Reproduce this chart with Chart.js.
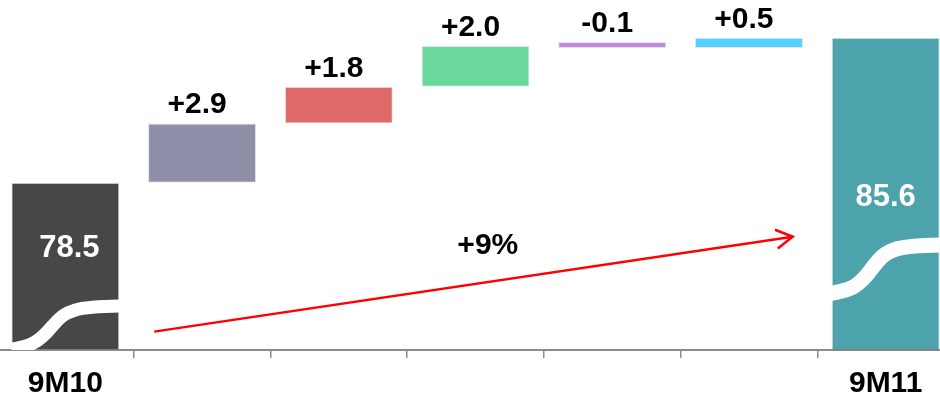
<!DOCTYPE html>
<html>
<head>
<meta charset="utf-8">
<script src="https://cdn.jsdelivr.net/npm/chart.js@4"></script>
<style>
  html, body { margin: 0; padding: 0; background: #fff; overflow: hidden; }
  #wrap { width: 957px; height: 397px; margin-left: -3px; }
</style>
</head>
<body>
<div id="wrap"><canvas id="chart"></canvas></div>
<script>
const categories = ["9M10", "", "", "", "", "", "9M11"];
const startValue = 78.5;
const endValue = 85.6;
const deltas = [2.9, 1.8, 2.0, -0.1, 0.5];
const growthLabel = "+9%";
const barColors = ["#474747", "#8f8fa9", "#e06a6a", "#6ad89b", "#c08ae0", "#55cfff", "#4da3ab"];

// waterfall ranges built from the numbers above
let bars = [[70.3, startValue]];
let running = startValue;
deltas.forEach(d => {
    bars.push([running, running + d]);
    running = running + d;
});
bars.push([70.3, endValue]);

const labelFont = "bold 30px 'Liberation Sans', Arial, sans-serif";

// white "axis break" wave on the first and last bar, value labels, growth arrow
const extras = {
    id: "extras",
    afterDatasetsDraw(chart) {
        const ctx = chart.ctx;
        const meta = chart.getDatasetMeta(0);
        const xs = chart.scales.x;
        const ys = chart.scales.y;

        const breaks = [
            { i: 0, left: 4, right: 44, lw: 13 },
            { i: 6, left: 60, right: 105, lw: 15 }
        ];
        breaks.forEach(b => {
            const bar = meta.data[b.i];
            const half = bar.width / 2;
            const x0 = bar.x - half, x1 = bar.x + half;
            const yL = bar.base - b.left, yR = bar.base - b.right;
            const xm = x0 + bar.width * 0.38;
            ctx.save();
            ctx.beginPath();
            ctx.rect(x0, bar.y, bar.width, bar.base - bar.y);
            ctx.clip();
            ctx.strokeStyle = "#fff";
            ctx.lineWidth = b.lw;
            ctx.beginPath();
            ctx.moveTo(x0 - 12, yL + 5);
            ctx.bezierCurveTo(x0 + 20, yL + 1, xm - 14, yL - 3, xm, (yL + yR) / 2);
            ctx.bezierCurveTo(xm + 14, yR + 5, x1 - 50, yR, x1 + 12, yR);
            ctx.stroke();
            ctx.restore();
        });

        ctx.save();
        ctx.font = labelFont;
        ctx.textAlign = "center";
        ctx.textBaseline = "alphabetic";
        meta.data.forEach((bar, i) => {
            if (i === 0 || i === meta.data.length - 1) return;
            const d = deltas[i - 1];
            const txt = (d >= 0 ? "+" : "") + d.toFixed(1);
            ctx.fillStyle = "#000";
            ctx.fillText(txt, bar.x - 5, Math.min(bar.y, bar.base) - 10);
        });

        ctx.font = "bold 31px 'Liberation Sans', Arial, sans-serif";
        ctx.fillStyle = "#fff";
        const first = meta.data[0];
        const last = meta.data[meta.data.length - 1];
        ctx.fillText(startValue.toFixed(1), first.x + 4, first.y + 0.38 * (first.base - first.y) + 11);
        ctx.fillText(endValue.toFixed(1), last.x, (last.y + last.base) / 2 + 12);
        ctx.restore();

        // growth arrow
        const ax0 = xs.getPixelForValue(0.65), ay0 = ys.getPixelForValue(71.2);
        const ax1 = xs.getPixelForValue(5.32), ay1 = ys.getPixelForValue(75.85);
        const ang = Math.atan2(ay1 - ay0, ax1 - ax0);
        ctx.save();
        ctx.strokeStyle = "#ff0000";
        ctx.lineWidth = 2.5;
        ctx.beginPath();
        ctx.moveTo(ax0, ay0);
        ctx.lineTo(ax1, ay1);
        ctx.moveTo(ax1 - 19 * Math.cos(ang - Math.PI / 6), ay1 - 19 * Math.sin(ang - Math.PI / 6));
        ctx.lineTo(ax1, ay1);
        ctx.lineTo(ax1 - 19 * Math.cos(ang + Math.PI / 6), ay1 - 19 * Math.sin(ang + Math.PI / 6));
        ctx.stroke();
        ctx.font = labelFont;
        ctx.fillStyle = "#000";
        ctx.textAlign = "center";
        ctx.fillText(growthLabel, xs.getPixelForValue(3.09), ys.getPixelForValue(75.55) + 11);
        ctx.restore();
    }
};

new Chart(document.getElementById("chart"), {
    type: "bar",
    data: {
        labels: categories,
        datasets: [{
            data: bars,
            backgroundColor: barColors,
            borderColor: "rgba(0,0,0,0.1)",
            borderWidth: 1,
            borderSkipped: false,
            barPercentage: 0.79,
            categoryPercentage: 1,
            minBarLength: 6
        }]
    },
    options: {
        responsive: true,
        maintainAspectRatio: false,
        animation: false,
        layout: { padding: 0 },
        plugins: { legend: { display: false }, tooltip: { enabled: false } },
        scales: {
            y: { display: false, min: 70.3, max: 87.45 },
            x: {
                grid: { display: true, drawOnChartArea: false, drawTicks: true, tickLength: 8, color: "#8c8c8c", lineWidth: 1.5, offset: true },
                border: { display: true, color: "#8c8c8c", width: 2 },
                ticks: {
                    color: "#000",
                    padding: 8,
                    maxRotation: 0,
                    autoSkip: false,
                    font: { family: "'Liberation Sans', Arial, sans-serif", size: 30, weight: "bold" }
                },
                afterFit: s => { s.height = 47; }
            }
        }
    },
    plugins: [extras]
});
</script>
</body>
</html>
